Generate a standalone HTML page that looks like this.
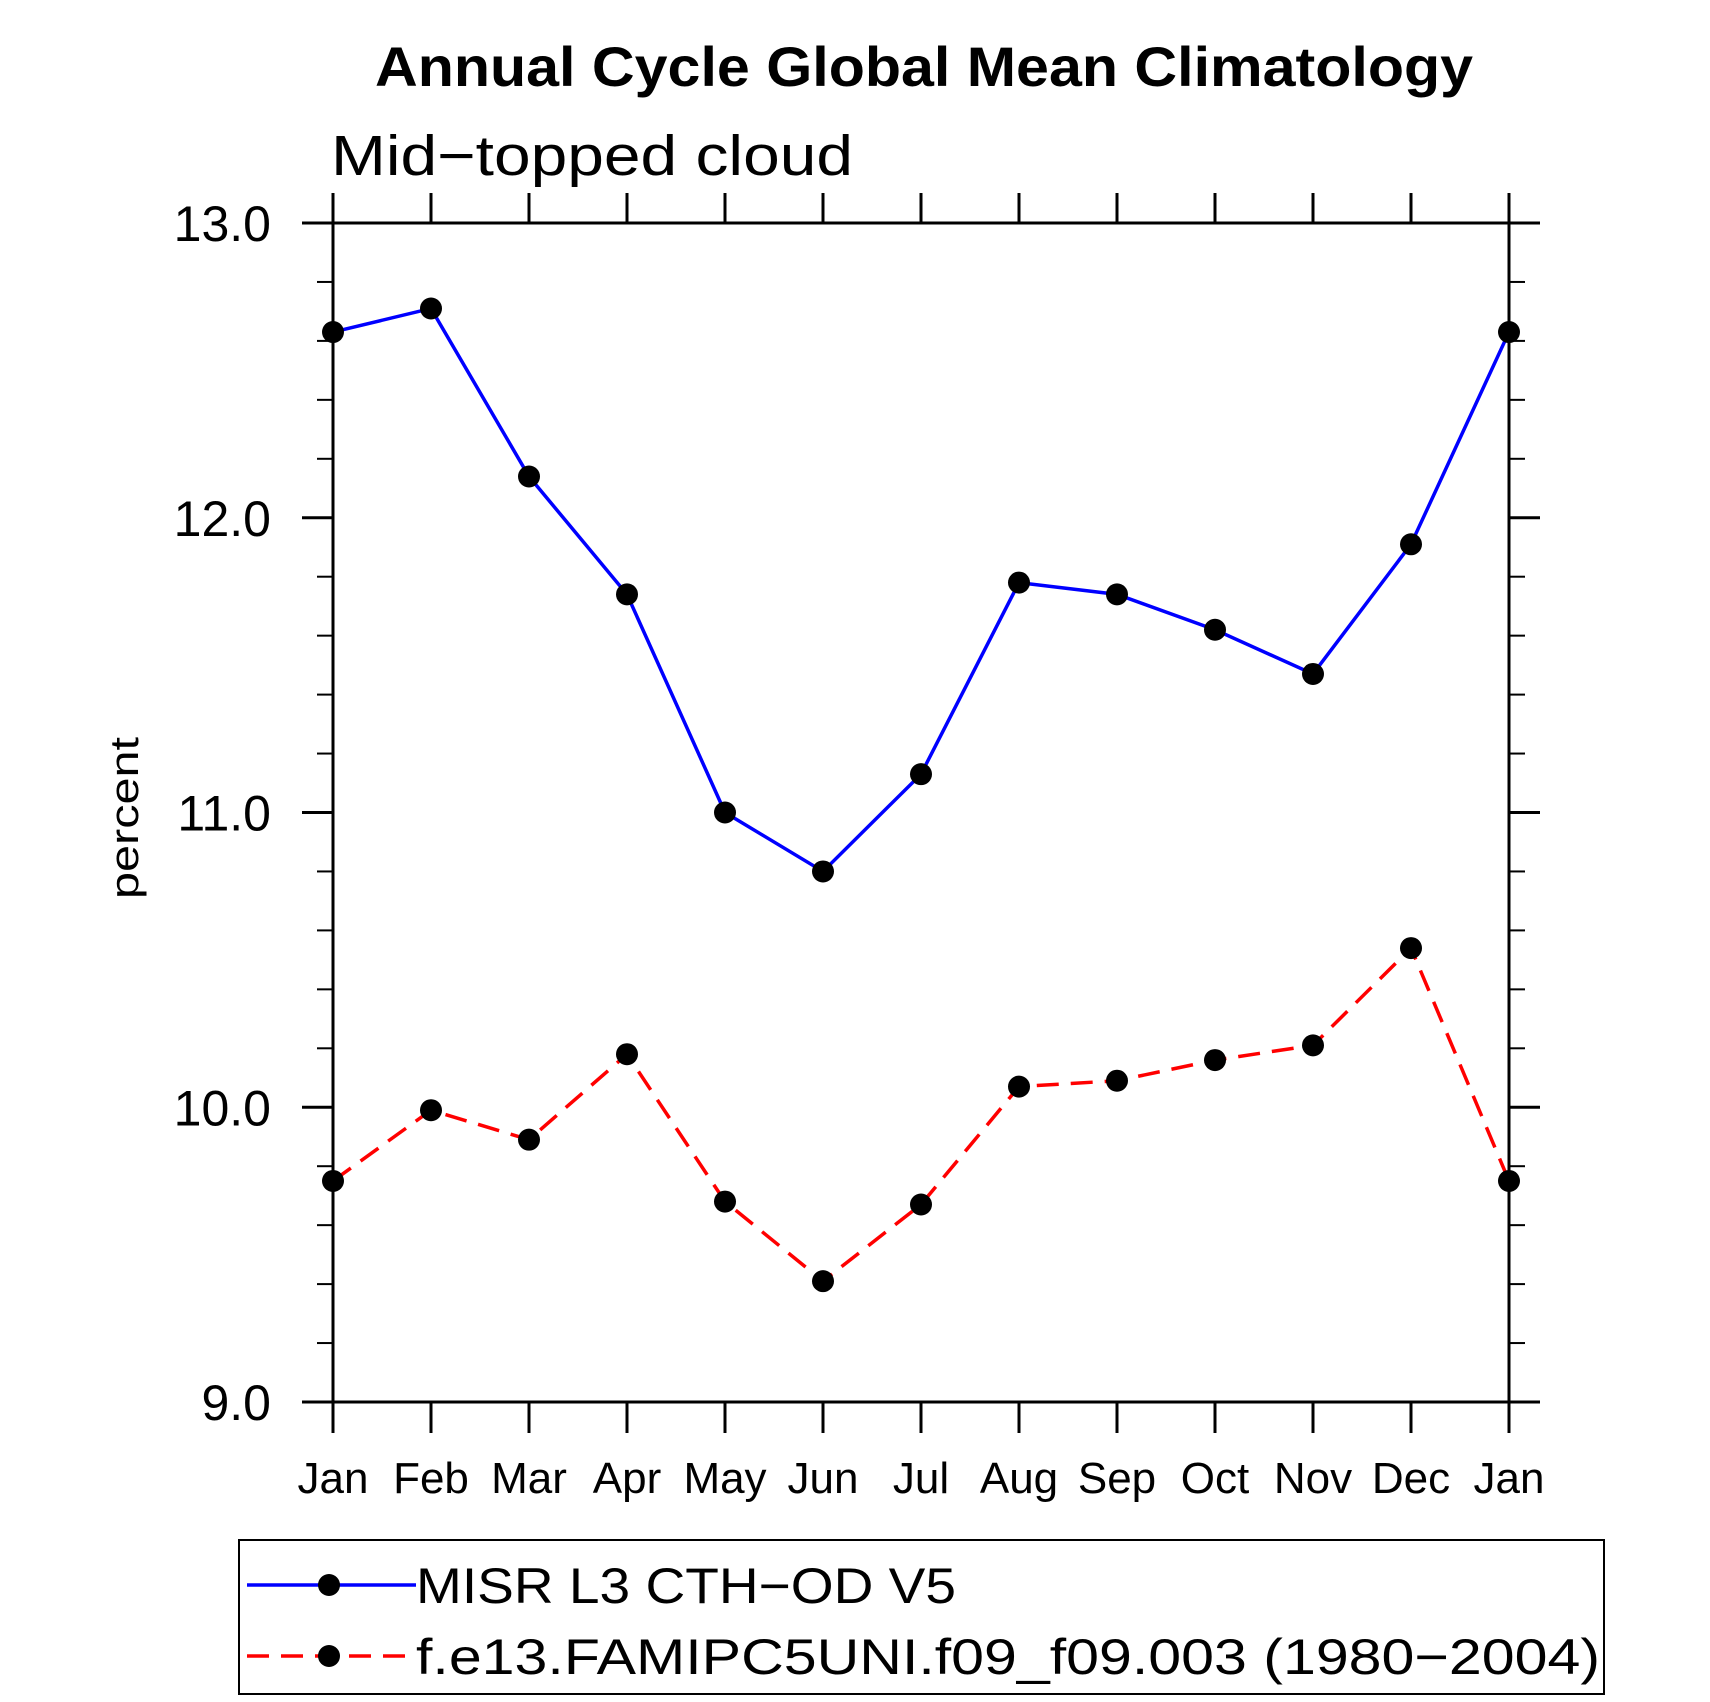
<!DOCTYPE html>
<html><head><meta charset="utf-8"><style>
html,body{margin:0;padding:0;background:#fff;}
svg{display:block;}
text{font-family:"Liberation Sans",sans-serif;}
</style></head><body>
<svg id="chart" width="1710" height="1702" viewBox="0 0 1710 1702">
<text x="924" y="86" font-size="56" font-weight="bold" text-anchor="middle" textLength="1098" lengthAdjust="spacingAndGlyphs">Annual Cycle Global Mean Climatology</text>
<text x="331" y="175" font-size="57" font-weight="normal" textLength="522" lengthAdjust="spacingAndGlyphs">Mid−topped cloud</text>
<text transform="translate(138,818) rotate(-90)" font-size="40" text-anchor="middle" textLength="162" lengthAdjust="spacingAndGlyphs">percent</text>
<g id="axes"></g>
<g id="series"></g>
<g id="legend">
<rect x="239" y="1540" width="1365" height="154" fill="none" stroke="#000" stroke-width="2"/>
<g>
<line x1="247" y1="1585" x2="416" y2="1585" stroke="#0000ff" stroke-width="3.5"/>
<circle cx="329" cy="1585" r="11" fill="#000"/>
<text x="416" y="1603" font-size="50" textLength="540" lengthAdjust="spacingAndGlyphs">MISR L3 CTH−OD V5</text>
</g>
<g>
<line x1="247" y1="1656" x2="416" y2="1656" stroke="#ff0000" stroke-width="3.5" stroke-dasharray="22,12"/>
<circle cx="329" cy="1656" r="11" fill="#000"/>
<text x="416" y="1674" font-size="50" textLength="1184" lengthAdjust="spacingAndGlyphs">f.e13.FAMIPC5UNI.f09_f09.003 (1980−2004)</text>
</g>
</g>
</svg>
<script>
const months = ["Jan","Feb","Mar","Apr","May","Jun","Jul","Aug","Sep","Oct","Nov","Dec","Jan"];
const misrValues = [12.63,12.71,12.14,11.74,11.00,10.80,11.13,11.78,11.74,11.62,11.47,11.91,12.63];
const modelValues = [9.75,9.99,9.89,10.18,9.68,9.41,9.67,10.07,10.09,10.16,10.21,10.54,9.75];
const yTickValues = [9,10,11,12,13];
const yTickLabels = ["9.0","10.0","11.0","12.0","13.0"];

const NS="http://www.w3.org/2000/svg";
const L=333,R=1509,T=223,B=1402,yMin=9,yMax=13;
function xPos(i){return L+(R-L)*i/(months.length-1);}
function yPos(v){return B-(B-T)*(v-yMin)/(yMax-yMin);}
function mk(tag,attrs,parent){const e=document.createElementNS(NS,tag);for(const k in attrs)e.setAttribute(k,attrs[k]);parent.appendChild(e);return e;}
const axes=document.getElementById('axes');
const frame=mk('rect',{x:L,y:T,width:R-L,height:B-T,fill:'none',stroke:'#000','stroke-width':3},axes);


months.forEach((m,i)=>{
  const x=xPos(i);
  mk('line',{x1:x,y1:B,x2:x,y2:B+31,stroke:'#000','stroke-width':3},axes);
  mk('line',{x1:x,y1:T,x2:x,y2:T-30,stroke:'#000','stroke-width':3},axes);
  const t=mk('text',{x:x,y:1493,'font-size':44,'text-anchor':'middle'},axes);
  t.textContent=m;
  
  
});
for(let v=yMin;v<=yMax+1e-9;v+=0.2){
  const y=yPos(v);const major=Math.abs(v-Math.round(v))<1e-6;
  const len=major?31:16;
  mk('line',{x1:L-len,y1:y,x2:L,y2:y,stroke:'#000','stroke-width':major?3:2},axes);
  mk('line',{x1:R,y1:y,x2:R+len,y2:y,stroke:'#000','stroke-width':major?3:2},axes);
}
yTickValues.forEach((v,i)=>{
  const t=mk('text',{x:271,y:yPos(v)+18,'font-size':50,'text-anchor':'end'},axes);
  t.textContent=yTickLabels[i];
  
  
});
const series=document.getElementById('series');
function draw(vals,color,dash,name){
  const pts=vals.map((v,i)=>xPos(i)+','+yPos(v)).join(' ');
  const a={points:pts,fill:'none',stroke:color,'stroke-width':3.5};
  if(dash)a['stroke-dasharray']=dash;
  const pl=mk('polyline',a,series);
  
  
  vals.forEach((v,i)=>{
    const c=mk('circle',{cx:xPos(i),cy:yPos(v),r:11,fill:'#000'},series);
    
    
  });
}
draw(misrValues,'#0000ff',null,'misr');
draw(modelValues,'#ff0000','22,12','model');
</script>
</body></html>
